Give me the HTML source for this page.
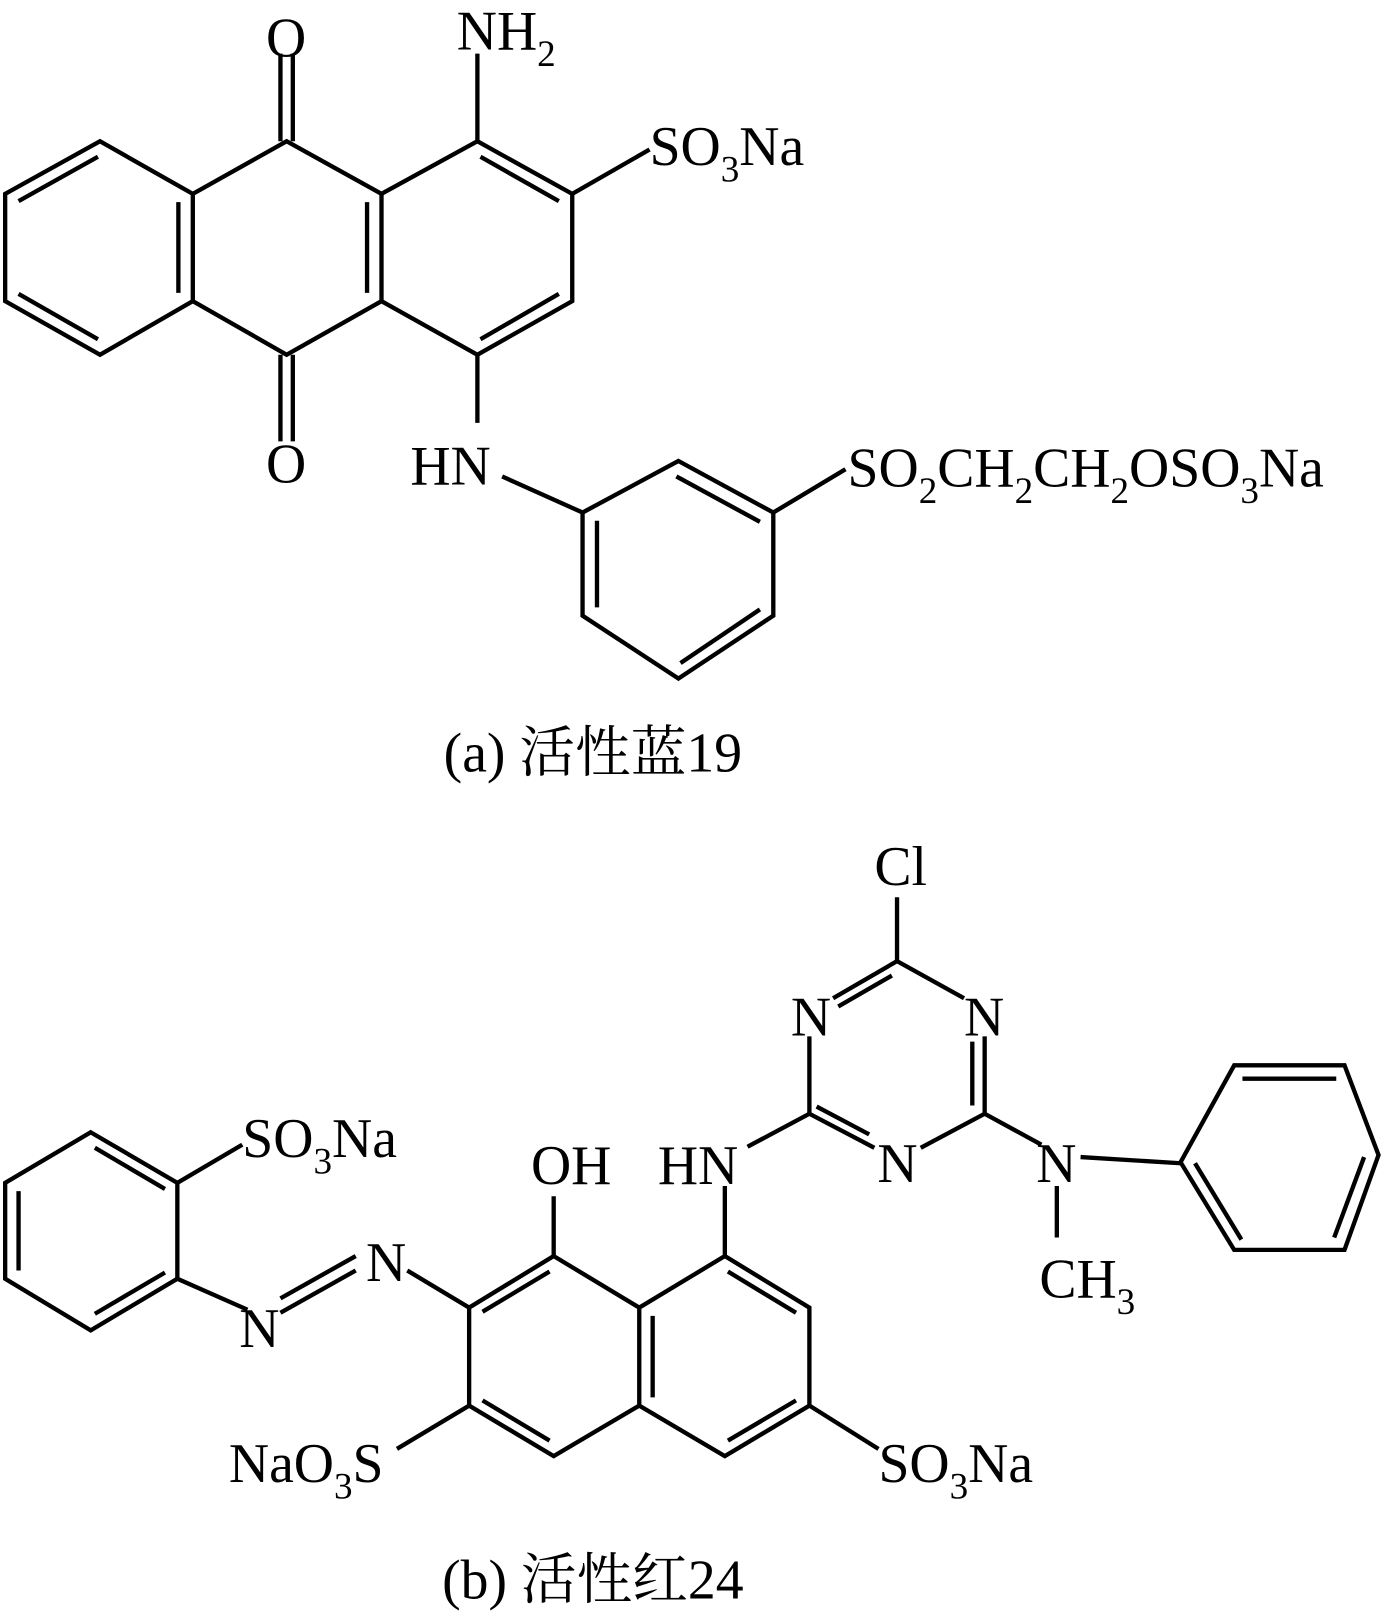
<!DOCTYPE html>
<html><head><meta charset="utf-8"><style>
html,body{margin:0;padding:0;background:#fff;}
svg{display:block;}
text{font-family:"Liberation Serif","Noto Serif CJK SC",serif;font-size:54px;fill:#000;}
.s{font-size:36px;}
</style></head><body>
<svg width="1394" height="1617" viewBox="0 0 1352 1568" preserveAspectRatio="none" xmlns="http://www.w3.org/2000/svg">
<g stroke="#000" stroke-width="4.2" fill="none" stroke-linecap="butt">
<polygon points="97,137 187,188 187,292 97,344 5,292 5,188"/>
<line x1="95" y1="152" x2="18" y2="195"/>
<line x1="173" y1="196" x2="173" y2="284"/>
<line x1="18" y1="285" x2="95" y2="329"/>
<polyline points="187,188 278,137 370,188 370,292 278,344 187,292"/>
<line x1="356" y1="196" x2="356" y2="284"/>
<line x1="272" y1="137" x2="272" y2="52"/><line x1="284" y1="137" x2="284" y2="52"/>
<line x1="272" y1="344" x2="272" y2="428"/><line x1="284" y1="344" x2="284" y2="428"/>
<polyline points="370,188 463,137 555,188 555,292 463,344 370,292"/>
<line x1="466" y1="152" x2="542" y2="195"/>
<line x1="542" y1="285" x2="466" y2="329"/>
<line x1="463" y1="137" x2="463" y2="52"/>
<line x1="555" y1="188" x2="630" y2="145"/>
<line x1="463" y1="344" x2="463" y2="410"/>
<line x1="487" y1="462" x2="565" y2="497"/>
<polygon points="658,447 750,497 750,597 658,658 565,597 565,497"/>
<line x1="656" y1="462" x2="737" y2="506"/>
<line x1="579" y1="505" x2="579" y2="589"/>
<line x1="660" y1="643" x2="737" y2="591"/>
<line x1="750" y1="497" x2="820" y2="455"/>

<line x1="870" y1="932" x2="870" y2="870"/>
<line x1="870" y1="932" x2="808" y2="968"/>
<line x1="865" y1="946" x2="813" y2="976"/>
<line x1="870" y1="932" x2="935" y2="968"/>
<line x1="955" y1="1005" x2="955" y2="1080"/>
<line x1="943" y1="1010" x2="943" y2="1072"/>
<line x1="955" y1="1080" x2="893" y2="1113"/>
<line x1="848" y1="1113" x2="785" y2="1080"/>
<line x1="843" y1="1100" x2="792" y2="1073"/>
<line x1="785" y1="1080" x2="785" y2="1005"/>
<line x1="785" y1="1080" x2="725" y2="1112"/>
<line x1="955" y1="1080" x2="1010" y2="1110"/>
<line x1="1048" y1="1122" x2="1145" y2="1128"/>
<line x1="1025" y1="1150" x2="1025" y2="1200"/>
<polygon points="1145,1127 1197,1033 1304,1033 1337,1120 1304,1212 1197,1212"/>
<line x1="1205" y1="1046" x2="1296" y2="1046"/>
<line x1="1159" y1="1128" x2="1204" y2="1202"/>
<line x1="1323" y1="1122" x2="1294" y2="1200"/>
<line x1="537" y1="1160" x2="537" y2="1218"/>
<line x1="703" y1="1150" x2="703" y2="1218"/>
<polygon points="537,1218 620,1268 620,1363 537,1412 455,1363 455,1268"/>
<polyline points="620,1268 703,1218 785,1268 785,1363 703,1412 620,1363"/>
<line x1="533" y1="1233" x2="468" y2="1272"/>
<line x1="468" y1="1358" x2="533" y2="1397"/>
<line x1="633" y1="1276" x2="633" y2="1355"/>
<line x1="706" y1="1233" x2="772" y2="1273"/>
<line x1="772" y1="1358" x2="706" y2="1397"/>
<line x1="785" y1="1363" x2="852" y2="1405"/>
<line x1="455" y1="1363" x2="385" y2="1405"/>
<line x1="455" y1="1268" x2="395" y2="1232"/>
<line x1="345" y1="1232" x2="272" y2="1273"/>
<line x1="345" y1="1218" x2="272" y2="1259"/>
<line x1="240" y1="1270" x2="172" y2="1240"/>
<polygon points="88,1098 172,1147 172,1240 88,1290 5,1240 5,1147"/>
<line x1="92" y1="1113" x2="160" y2="1153"/>
<line x1="160" y1="1234" x2="92" y2="1274"/>
<line x1="18" y1="1155" x2="18" y2="1232"/>
<line x1="172" y1="1147" x2="235" y2="1110"/>
</g>
<g>
<text x="258" y="55">O</text>
<text x="258" y="468">O</text>
<text x="443" y="48">NH<tspan class="s" dy="16">2</tspan></text>
<text x="630" y="160">SO<tspan class="s" dy="16">3</tspan><tspan dy="-16">Na</tspan></text>
<text x="398" y="470">HN</text>
<text x="822" y="472">SO<tspan class="s" dy="16">2</tspan><tspan dy="-16">CH</tspan><tspan class="s" dy="16">2</tspan><tspan dy="-16">CH</tspan><tspan class="s" dy="16">2</tspan><tspan dy="-16">OSO</tspan><tspan class="s" dy="16">3</tspan><tspan dy="-16">Na</tspan></text>
<text x="575" y="748" text-anchor="middle">(a) 活性蓝19</text>

<text x="848" y="858">Cl</text>
<text x="767" y="1004">N</text>
<text x="935" y="1004">N</text>
<text x="851" y="1146">N</text>
<text x="638" y="1148">HN</text>
<text x="1005" y="1146">N</text>
<text x="1008" y="1258">CH<tspan class="s" dy="16">3</tspan></text>
<text x="515" y="1148">OH</text>
<text x="355" y="1242">N</text>
<text x="232" y="1306">N</text>
<text x="235" y="1122">SO<tspan class="s" dy="16">3</tspan><tspan dy="-16">Na</tspan></text>
<text x="222" y="1437">NaO<tspan class="s" dy="16">3</tspan><tspan dy="-16">S</tspan></text>
<text x="852" y="1437">SO<tspan class="s" dy="16">3</tspan><tspan dy="-16">Na</tspan></text>
<text x="575" y="1550" text-anchor="middle">(b) 活性红24</text>
</g>
</svg>
</body></html>
